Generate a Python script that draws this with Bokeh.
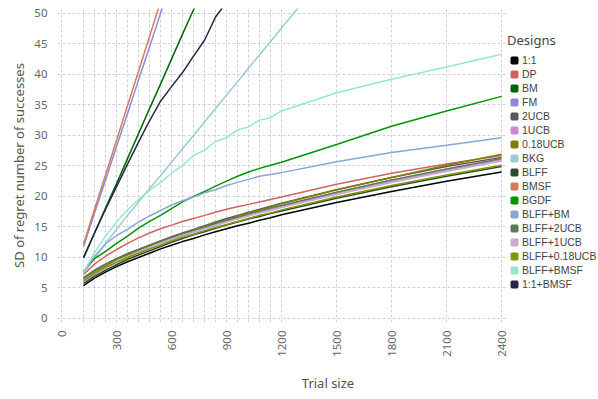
import math
from bokeh.plotting import figure
from bokeh.models import Legend, LegendItem, FixedTicker, Range1d, BoxAnnotation
from bokeh.embed import file_html
from bokeh.resources import INLINE

# ---------------- data ----------------
trial_sizes = [120, 180, 240, 300, 360, 420, 480, 540, 600, 660, 720, 780,
               840, 900, 960, 1020, 1080, 1140, 1200, 1500, 1800, 2100, 2400]
x_tick_values = [0, 300, 600, 900, 1200, 1500, 1800, 2100, 2400]
y_tick_values = [0, 5, 10, 15, 20, 25, 30, 35, 40, 45, 50]

designs = ["1:1", "DP", "BM", "FM", "2UCB", "1UCB", "0.18UCB", "BKG", "BLFF",
           "BMSF", "BGDF", "BLFF+BM", "BLFF+2UCB", "BLFF+1UCB", "BLFF+0.18UCB",
           "BLFF+BMSF", "1:1+BMSF"]

colors = ["#000000", "#d06262", "#006600", "#8b8bd6", "#595959", "#cc88d0",
          "#7f7f00", "#99cccc", "#2e4a2e", "#d27c5e", "#009400", "#88a8d4",
          "#5a7a5a", "#ccaad0", "#7a9a00", "#99e6cc", "#23254a"]

sd_1_1 = [5.4, 6.6, 7.6, 8.5, 9.3, 10.0, 10.7, 11.4, 12.0, 12.6, 13.1, 13.7,
          14.2, 14.7, 15.2, 15.6, 16.1, 16.5, 17.0, 19.0, 20.8, 22.5, 24.0]
sd_dp = [7.2, 8.9, 10.2, 11.3, 12.3, 13.2, 14.0, 14.7, 15.3, 15.9, 16.4, 16.9,
         17.4, 17.9, 18.3, 18.7, 19.1, 19.5, 19.9, 22.0, 23.8, 25.3, 26.7]
sd_bm = [9.9, 14.0, 18.1, 22.1, 26.2, 30.3, 34.4, 38.4, 42.5, 46.6, 50.6, 54.7]
sd_fm = [11.8, 17.3, 22.7, 28.2, 33.6, 39.1, 44.5, 50.0, 55.5]
sd_2ucb = [6.6, 7.9, 8.9, 9.8, 10.6, 11.3, 12.0, 12.7, 13.4, 14.0, 14.6, 15.2,
           15.8, 16.4, 16.9, 17.4, 17.9, 18.4, 18.9, 21.1, 23.1, 24.9, 26.4]
sd_1ucb = [6.0, 7.2, 8.3, 9.2, 10.1, 10.9, 11.6, 12.3, 13.0, 13.6, 14.2, 14.8,
           15.4, 15.9, 16.4, 16.9, 17.4, 17.9, 18.4, 20.5, 22.5, 24.3, 26.0]
sd_018ucb = [6.4, 7.6, 8.6, 9.6, 10.4, 11.2, 11.9, 12.6, 13.3, 13.9, 14.5, 15.1,
             15.7, 16.2, 16.8, 17.3, 17.8, 18.3, 18.8, 21.1, 23.1, 25.1, 26.9]
sd_bkg = [7.4, 9.9, 12.3, 14.6, 16.9, 19.1, 21.3, 23.4, 25.6, 27.8, 30.0, 32.2,
          34.4, 36.6, 38.8, 41.0, 43.2, 45.4, 47.6, 58.6]
sd_blff = [5.7, 6.9, 7.9, 8.8, 9.7, 10.4, 11.1, 11.8, 12.5, 13.1, 13.7, 14.2,
           14.8, 15.3, 15.8, 16.3, 16.7, 17.2, 17.6, 19.7, 21.6, 23.3, 24.9]
sd_bmsf = [12.2, 17.9, 23.5, 29.2, 34.9, 40.5, 46.2, 51.9, 57.5]
sd_bgdf = [7.8, 9.8, 11.0, 12.3, 13.5, 14.8, 15.9, 16.9, 18.0, 19.1, 20.0, 20.8,
           21.7, 22.5, 23.3, 24.0, 24.6, 25.1, 25.6, 28.5, 31.5, 34.0, 36.4]
sd_blff_bm = [7.5, 10.2, 12.2, 13.6, 14.6, 15.8, 16.8, 17.7, 18.6, 19.3, 19.9, 20.6,
              21.1, 21.8, 22.3, 22.8, 23.3, 23.6, 23.9, 25.7, 27.2, 28.4, 29.6]
sd_blff_2ucb = [6.7, 7.9, 8.9, 9.8, 10.6, 11.3, 12.0, 12.7, 13.3, 13.9, 14.5, 15.0,
                15.6, 16.1, 16.6, 17.1, 17.6, 18.1, 18.5, 20.7, 22.7, 24.5, 26.2]
sd_blff_1ucb = [6.3, 7.4, 8.4, 9.3, 10.1, 10.9, 11.6, 12.3, 12.9, 13.5, 14.1, 14.7,
                15.2, 15.8, 16.3, 16.8, 17.3, 17.7, 18.2, 20.3, 22.3, 24.1, 25.8]
sd_blff_018ucb = [6.2, 7.4, 8.4, 9.2, 10.0, 10.7, 11.4, 12.0, 12.7, 13.3, 13.8, 14.4,
                  14.9, 15.4, 15.9, 16.4, 16.9, 17.3, 17.8, 19.9, 21.8, 23.5, 25.1]
sd_blff_bmsf = [7.6, 10.8, 13.5, 15.8, 17.8, 19.5, 21.0, 22.3, 23.8, 25.1, 26.7, 27.6,
                29.0, 29.6, 30.9, 31.4, 32.5, 32.9, 34.0, 37.0, 39.2, 41.2, 43.3]
sd_1_1_bmsf = [10.0, 14.0, 17.9, 21.6, 25.3, 28.9, 32.4, 35.6, 38.0, 40.3, 43.0, 45.6,
               49.4, 51.8]

series = [sd_1_1, sd_dp, sd_bm, sd_fm, sd_2ucb, sd_1ucb, sd_018ucb, sd_bkg, sd_blff,
          sd_bmsf, sd_bgdf, sd_blff_bm, sd_blff_2ucb, sd_blff_1ucb, sd_blff_018ucb,
          sd_blff_bmsf, sd_1_1_bmsf]

X_PLOT_END = 2433  # end of the gridded plotting area (data units)

# ---------------- figure ----------------
FONT = "Noto Sans"
LEGEND_FONT = "Liberation Sans"
p = figure(width=598, height=399, output_backend="svg", toolbar_location=None,
           x_range=Range1d(-22, 2929), y_range=Range1d(-0.66, 50.8),
           min_border_left=57, min_border_right=0, min_border_top=8,
           min_border_bottom=77)
p.extra_x_ranges = {"legend_only": Range1d(-1e7, -1e7 + 1)}
p.outline_line_color = None
p.background_fill_color = "white"
p.border_fill_color = "white"

p.xaxis.ticker = FixedTicker(ticks=x_tick_values)
p.yaxis.ticker = FixedTicker(ticks=y_tick_values)
p.xgrid.ticker = FixedTicker(ticks=[0] + trial_sizes)
p.ygrid.ticker = FixedTicker(ticks=y_tick_values)
for g in (p.xgrid, p.ygrid):
    g.grid_line_color = "#d0d0e0"
    g.grid_line_dash = "3 2"
    g.grid_line_width = 1

for ax in (p.xaxis, p.yaxis):
    ax.axis_line_color = None
    ax.major_tick_line_color = None
    ax.minor_tick_line_color = None
    ax.major_tick_out = 0
    ax.major_tick_in = 0
    ax.minor_tick_out = 0
    ax.major_label_text_font = FONT
    ax.major_label_text_font_size = "11.5px"
    ax.major_label_text_color = "#666666"
    ax.axis_label_text_font = FONT
    ax.axis_label_text_font_size = "13px"
    ax.axis_label_text_font_style = "normal"
    ax.axis_label_text_color = "#555555"

p.xaxis.major_label_standoff = 8
p.yaxis.major_label_standoff = 10
p.xaxis.major_label_orientation = math.pi / 2
p.xaxis.axis_label = "Trial size"
p.yaxis.axis_label = "SD of regret number of successes"
p.xaxis.axis_label_standoff = 14
p.yaxis.axis_label_standoff = 3

# white cover to the right of the plotting area (legend region)
p.add_layout(BoxAnnotation(left=X_PLOT_END, fill_color="white", fill_alpha=1,
                           line_color=None, level="annotation"))

items = []
for name, color, vals in zip(designs, colors, series):
    xs = trial_sizes[:len(vals)]
    p.line(xs, vals, line_color=color, line_width=1.5)
    # legend-only square swatch, mapped to an off-screen range
    sw = p.scatter(xs, vals, marker="square", size=8, fill_color=color,
                   line_color=color, line_width=2.4, x_range_name="legend_only")
    items.append(LegendItem(label=name, renderers=[sw]))

legend = Legend(items=items, location=(450, 31), title="Designs",
                padding=0, margin=0, border_line_color=None,
                background_fill_alpha=0,
                glyph_width=14, glyph_height=14, label_height=14,
                label_standoff=1, spacing=0,
                label_text_font=LEGEND_FONT, label_text_font_size="10.5px",
                label_text_color="#444444",
                title_text_font=FONT, title_text_font_size="13px",
                title_text_font_style="normal", title_text_color="#444444",
                title_standoff=4)
p.add_layout(legend)

open("out.html", "w").write(file_html(p, INLINE))
